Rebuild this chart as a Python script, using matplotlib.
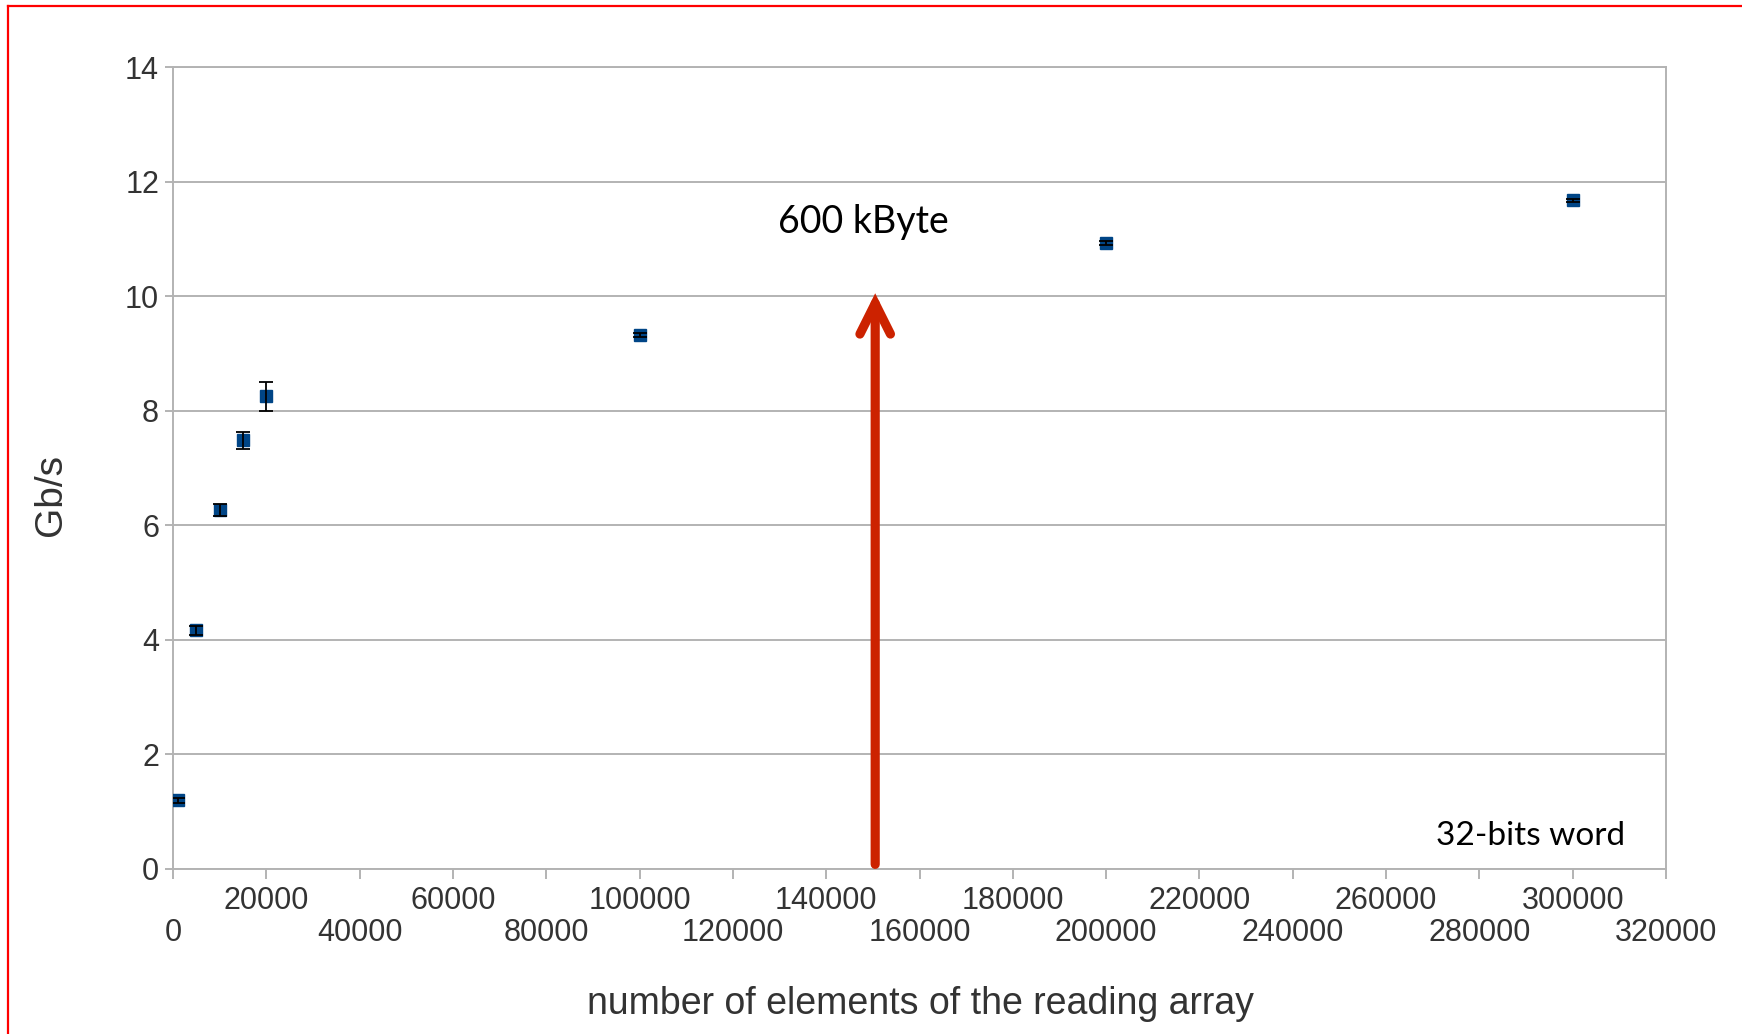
import matplotlib
matplotlib.use("Agg")
import matplotlib.pyplot as plt
from matplotlib.lines import Line2D
import numpy as np

# Data
n_elements = [1000, 5000, 10000, 15000, 20000, 100000, 200000, 300000]
gbps = [1.20, 4.17, 6.27, 7.48, 8.25, 9.32, 10.93, 11.67]
gbps_err = [0.04, 0.08, 0.11, 0.14, 0.25, 0.03, 0.03, 0.03]

x_major = list(range(0, 320001, 40000))
x_minor = list(range(20000, 320000, 40000))
y_ticks = list(range(0, 15, 2))

arrow_x = 150500
arrow_y0, arrow_y1 = 0.08, 10.05

grey = "#b3b3b3"
txt = "#333333"
blue = "#004586"

fig = plt.figure(figsize=(17.42, 10.34), dpi=100)
ax = fig.add_axes([0.0993, 0.1596, 0.9564 - 0.0993, 0.9352 - 0.1596])

ax.errorbar(n_elements, gbps, yerr=gbps_err, fmt='none', ecolor='black',
            elinewidth=1.3, capsize=4.7, capthick=1.3, zorder=4)
ax.plot(n_elements, gbps, linestyle='none', marker='s', markersize=8.6,
        markerfacecolor=blue, markeredgecolor=blue, zorder=3)

ax.set_xlim(0, 320000)
ax.set_ylim(0, 14)
ax.set_yticks(y_ticks)
ax.set_yticklabels([str(v) for v in y_ticks])
ax.set_xticks(x_major)
ax.set_xticklabels([str(v) for v in x_major])
ax.set_xticks(x_minor, minor=True)
ax.set_xticklabels([str(v) for v in x_minor], minor=True)

ax.grid(axis='y', color=grey, linewidth=1.4, zorder=0)
ax.set_axisbelow(True)
for s in ax.spines.values():
    s.set_color(grey)
    s.set_linewidth(1.4)

ax.tick_params(axis='y', which='major', direction='out', length=6, width=1.4,
               color=grey, labelcolor=txt, labelsize=22, pad=4)
ax.tick_params(axis='x', which='major', direction='out', length=7, width=1.4,
               color=grey, labelcolor=txt, labelsize=22, pad=28.5)
ax.tick_params(axis='x', which='minor', direction='out', length=7, width=1.4,
               color=grey, labelcolor=txt, labelsize=22, pad=5.5)
for lab in ax.get_xticklabels() + ax.get_xticklabels(minor=True) + ax.get_yticklabels():
    lab.set_family(['Liberation Sans', 'DejaVu Sans'])

ax.set_ylabel("Gb/s", fontsize=28, color=txt, family=['Liberation Sans', 'DejaVu Sans'])
ax.yaxis.set_label_coords(-0.0814, 0.466)
ax.yaxis.label.set_va('center')
ax.set_xlabel("number of elements of the reading array", fontsize=27, color=txt,
              family=['Liberation Sans', 'DejaVu Sans'])
ax.xaxis.set_label_coords(0.5003, -0.168)
ax.xaxis.label.set_va('center')

ax.annotate("", xy=(arrow_x, arrow_y1), xytext=(arrow_x, arrow_y0),
            arrowprops=dict(arrowstyle='->,head_length=1.1,head_width=0.55',
                            mutation_scale=20, lw=6.6, color='#cc2200',
                            shrinkA=0, shrinkB=0, capstyle='round',
                            joinstyle='miter'), zorder=5)

ax.text(148000, 11.30, "600 kByte", fontsize=27, color='black', ha='center',
        va='center', family=['Lato', 'DejaVu Sans'])
ax.text(291000, 0.58, "32-bits word", fontsize=24, color='black', ha='center',
        va='center', family=['Lato', 'DejaVu Sans'])

# red frame (top and left edges visible)
fig.add_artist(Line2D([8 / 1742, 1.0], [1 - 6 / 1034, 1 - 6 / 1034],
                      transform=fig.transFigure, color='red', linewidth=1.6))
fig.add_artist(Line2D([8 / 1742, 8 / 1742], [0.0, 1 - 6 / 1034],
                      transform=fig.transFigure, color='red', linewidth=1.6))

fig.savefig("out.png", dpi=100)
